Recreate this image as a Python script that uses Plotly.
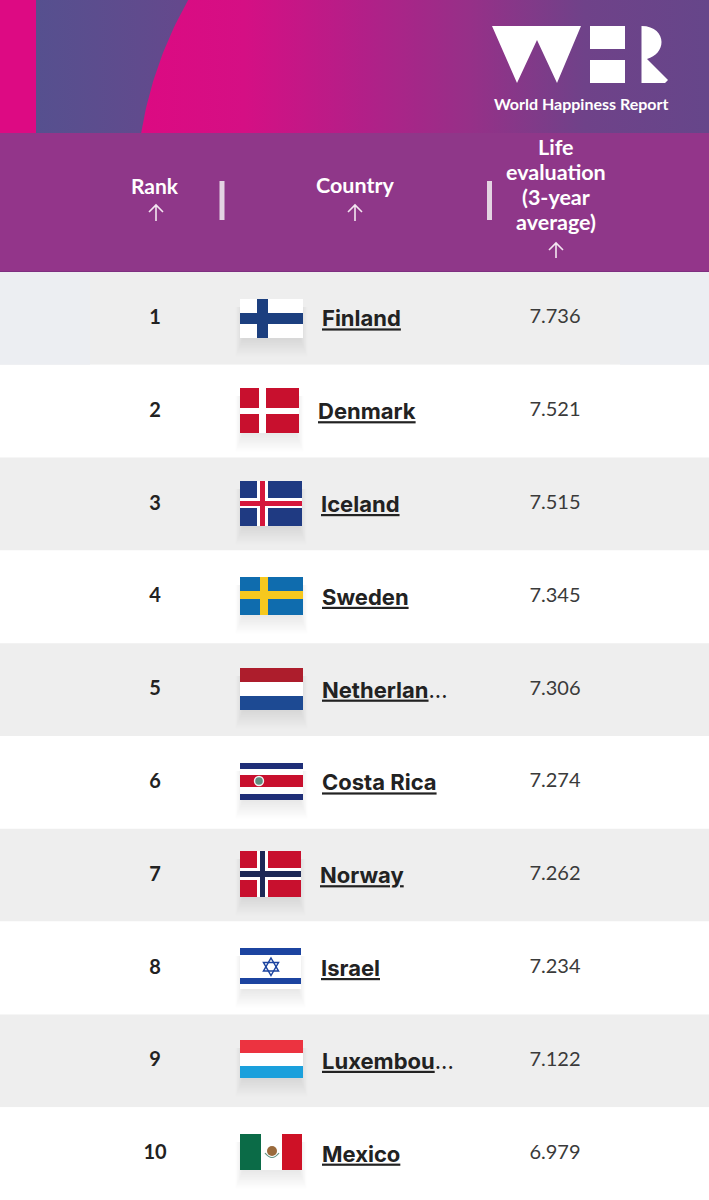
import numpy as np
import plotly.graph_objects as go

# Valores de la tabla
ranks = [1, 2, 3, 4, 5, 6, 7, 8, 9, 10]
countries = ["Finland", "Denmark", "Iceland", "Sweden", "Netherlan...",
             "Costa Rica", "Norway", "Israel", "Luxembou...", "Mexico"]
scores = [7.736, 7.521, 7.515, 7.345, 7.306, 7.274, 7.262, 7.234, 7.122, 6.979]
headers = ["Rank", "Country", "Life", "evaluation", "(3-year", "average)"]

# Geometria de la pagina, en pixeles
W, H = 709, 1200
TOP = 272
ROW_H = (H - TOP) / 10
COUNTRY_X = [322, 318, 321, 322, 322, 322, 320, 321, 322, 322]
FONT = "Lato"
GREY = "#eeeeee"
INK = "#222222"

shapes = []


def rect(x0, y0, x1, y1, color, opacity=1):
    shapes.append(dict(type="rect", xref="x", yref="y2", x0=x0, y0=y0, x1=x1, y1=y1,
                       fillcolor=color, opacity=opacity, line_width=0, layer="above"))


def circle(cx, cy, r, color, line=None, lw=0):
    shapes.append(dict(type="circle", xref="x", yref="y2", x0=cx - r, y0=cy - r, x1=cx + r, y1=cy + r,
                       fillcolor=color, line=dict(color=line, width=lw), layer="above"))


def path(d, fill=None, line=None, lw=0):
    shapes.append(dict(type="path", xref="x", yref="y2", path=d, fillcolor=fill,
                       line=dict(color=line, width=lw), layer="above"))


def flag_base(x0, y0, x1, y1):
    # sombra difusa debajo de la bandera
    for i in range(14):
        g = i * 1.1
        rect(x0 + 4 - g * 0.6, y0 + 8, x1 - 4 + g * 0.6, y1 - 3 + g * 1.5, "#000000", 0.009)


def stripes_h(x0, x1, bands):
    for y0, y1, c in bands:
        rect(x0, y0, x1, y1, c)


def cross(x0, y0, x1, y1, vx0, vx1, hy0, hy1, color):
    rect(vx0, y0, vx1, y1, color)
    rect(x0, hy0, x1, hy1, color)


def arrow(x, y0, y1):
    path(f"M{x},{y1} L{x},{y0} M{x - 7},{y0 + 7} L{x},{y0} L{x + 7},{y0 + 7}", line="#f3e6f1", lw=1.6)


# Filas de la tabla
row_colors = [GREY if r % 2 else "#ffffff" for r in ranks]
fig = go.Figure()
fig.add_trace(go.Bar(y=ranks, x=[W] * len(ranks), orientation="h", width=1, marker=dict(color=row_colors, line_width=0),
                     hoverinfo="skip"))
rect(0, TOP, 90, TOP + ROW_H, "#eceef2")
rect(620, TOP, W, TOP + ROW_H, "#eceef2")

# Banda superior con degradados
fig.add_trace(go.Scatter(x=[36, 200, 200, 36, 36], y=[0, 0, 133, 133, 0], yaxis="y2", mode="lines", line_width=0,
                         fill="toself", hoverinfo="skip",
                         fillgradient=dict(type="horizontal", colorscale=[[0, "#56508f"], [1, "#66488c"]])))
arc_y = np.linspace(0, 133, 30)
arc_x = 534 - np.sqrt(398 ** 2 - (arc_y - 197) ** 2)
fig.add_trace(go.Scatter(x=list(arc_x) + [W, W], y=list(arc_y) + [133, 0], yaxis="y2", mode="lines", line_width=0,
                         fill="toself", hoverinfo="skip",
                         fillgradient=dict(type="horizontal", colorscale=[
                             [0, "#dc0a82"], [0.18, "#d50f84"], [0.40, "#b12088"], [0.58, "#963088"],
                             [0.78, "#6f4289"], [1, "#66468a"]])))
rect(0, 0, 36, 133, "#dd0a83")
rect(0, 133, W, TOP, "#93358a")
rect(90, 133, 620, TOP, "#8f3789")
rect(0, TOP - 1, W, TOP, "#7e2f80")

# Logo
path("M492,26 L581,26 L557,83 L537,40 L517,83 Z", fill="#ffffff")
rect(590, 26, 625, 49, "#ffffff")
rect(590, 60, 625, 83, "#ffffff")
path("M641.5,26 C655,26 661.5,34 661.5,42 C661.5,50 656,56 647,59 L668,80 L665,83 L641.5,83 Z", fill="#ffffff")

# Separadores y flechas del encabezado
for x in [222, 489.5]:
    shapes.append(dict(type="line", xref="x", yref="y2", x0=x, x1=x, y0=181, y1=220,
                       line=dict(color="#e3d3e2", width=5), layer="above"))
arrow(156, 205, 221)
arrow(355, 205, 221)
arrow(556, 243, 258)

# Banderas
flag_base(240, 299, 303, 338)
rect(240, 299, 303, 338, "#ffffff")
cross(240, 299, 303, 338, 257, 268, 313, 324, "#1c3f7f")

flag_base(240, 388, 299, 433)
rect(240, 388, 299, 433, "#c8102e")
cross(240, 388, 299, 433, 259, 266, 408, 414, "#ffffff")

flag_base(240, 481, 302, 526)
rect(240, 481, 302, 526, "#1f3a82")
cross(240, 481, 302, 526, 257, 268, 498, 508, "#ffffff")
cross(240, 481, 302, 526, 260, 265, 501, 506, "#d5173c")

flag_base(240, 577, 303, 615)
rect(240, 577, 303, 615, "#0f6cae")
cross(240, 577, 303, 615, 260, 268, 591, 599, "#f6c81e")

flag_base(240, 668, 303, 710)
stripes_h(240, 303, [(668, 682, "#ad1d2c"), (682, 696, "#ffffff"), (696, 710, "#1d4a93")])

flag_base(240, 763, 303, 800)
stripes_h(240, 303, [(763, 769, "#1f2f78"), (769, 775, "#ffffff"), (775, 787, "#c8102e"),
                     (787, 794, "#ffffff"), (794, 800, "#1f2f78")])
circle(259, 781, 4.5, "#5f9080", "#f2f2f2", 1.4)

flag_base(240, 851, 301, 897)
rect(240, 851, 301, 897, "#c8102e")
cross(240, 851, 301, 897, 257, 268, 868, 880, "#ffffff")
cross(240, 851, 301, 897, 260, 265, 871, 877, "#1d2856")

flag_base(240, 948, 301, 989)
rect(240, 948, 301, 989, "#ffffff")
stripes_h(240, 301, [(948, 955, "#1c44a0"), (978, 984, "#1c44a0")])
path("M271,958 L278.5,971 L263.5,971 Z", line="#1c44a0", lw=1.5)
path("M271,975.5 L278.5,962.5 L263.5,962.5 Z", line="#1c44a0", lw=1.5)

flag_base(240, 1040, 303, 1078)
stripes_h(240, 303, [(1040, 1053, "#ec3340"), (1053, 1066, "#ffffff"), (1066, 1078, "#1ba0dc")])

flag_base(240, 1134, 302, 1170)
rect(240, 1134, 261, 1170, "#0b6b47")
rect(261, 1134, 282, 1170, "#ffffff")
rect(282, 1134, 302, 1170, "#ce1126")
circle(272, 1151, 5, "#9a6a3c")
path("M265,1153 Q272,1162 279,1153", line="#5f9080", lw=1.2)


def row_y(offset):
    return [r + offset / ROW_H for r in ranks]


# Textos de las filas
fig.add_trace(go.Scatter(x=[155] * len(ranks), y=row_y(0.5), mode="text", text=[str(r) for r in ranks],
                         textposition="middle center", hoverinfo="skip",
                         textfont=dict(family=FONT, size=20, color=INK, weight=700)))
labels = []
for c in countries:
    if c.endswith("..."):
        labels.append(f"<b><u>{c[:-3]}</u></b>...")
    else:
        labels.append(f"<b><u>{c}</u></b>")
fig.add_trace(go.Scatter(x=COUNTRY_X, y=row_y(2.5), mode="text", text=labels, textposition="middle right",
                         hoverinfo="skip", cliponaxis=False,
                         textfont=dict(family="Inter", size=22, color=INK)))
fig.add_trace(go.Scatter(x=[555] * len(scores), y=row_y(0), mode="text", text=[f"{s:.3f}" for s in scores],
                         textposition="middle center", hoverinfo="skip",
                         textfont=dict(family=FONT, size=20, color="#3a3a3a")))

# Encabezados como anotaciones
annotations = [
    dict(x=155, y=185, text=headers[0], font_size=21),
    dict(x=355, y=185, text=headers[1], font_size=21.5),
    dict(x=556, y=147, text=headers[2], font_size=21.5),
    dict(x=556, y=172, text=headers[3], font_size=21.5),
    dict(x=556, y=197, text=headers[4], font_size=21.5),
    dict(x=556, y=222, text=headers[5], font_size=21.5),
    dict(x=581, y=103, text="World Happiness Report", font_size=16),
]
for a in annotations:
    a.update(xref="x", yref="y2", showarrow=False, xanchor="center", yanchor="middle",
             font=dict(family=FONT, size=a.pop("font_size"), color="#ffffff", weight=700))

fig.update_layout(
    width=W, height=H,
    margin=dict(l=0, r=0, t=0, b=0),
    showlegend=False,
    plot_bgcolor="#ffffff",
    paper_bgcolor="#ffffff",
    xaxis=dict(range=[0, W], visible=False, fixedrange=True),
    yaxis=dict(range=[10.5, 0.5 - TOP / ROW_H], visible=False, fixedrange=True),
    yaxis2=dict(range=[H, 0], visible=False, overlaying="y", fixedrange=True),
    shapes=shapes,
    annotations=annotations,
)

fig.write_html("out.html", config=dict(displayModeBar=False),
               post_script="document.body.style.margin='0';document.body.style.overflow='hidden';")
